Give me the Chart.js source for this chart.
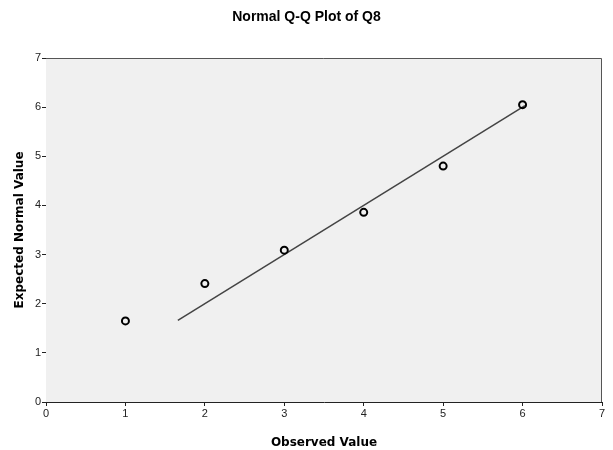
<!DOCTYPE html>
<html>
<head>
<meta charset="utf-8">
<script src="https://cdn.jsdelivr.net/npm/chart.js@4.4.1/dist/chart.umd.min.js"></script>
<style>
  html, body { margin: 0; padding: 0; background: #fff; }
  #qq { display: block; }
</style>
</head>
<body>
<canvas id="qq" width="613" height="450"></canvas>
<script>
// Normal Q-Q plot of Q8
const observed = [1, 2, 3, 4, 5, 6];
const expected = [1.65, 2.41, 3.09, 3.86, 4.80, 6.05];
const refLineX = [1.66, 6.03];
const refLineY = [1.66, 6.03];
const axisTicks = [0, 1, 2, 3, 4, 5, 6, 7];

const FONT = '"Liberation Sans", Arial, sans-serif';
const TITLE_FONT = '"DejaVu Sans", Verdana, sans-serif';

// grey plot area + top/right frame like SPSS
const plotFrame = {
    id: 'plotFrame',
    beforeDatasetsDraw(chart) {
        const { ctx, chartArea: a } = chart;
        ctx.save();
        ctx.fillStyle = '#f0f0f0';
        ctx.fillRect(a.left, a.top, a.right - a.left, a.bottom - a.top);
        ctx.restore();
    },
    afterDraw(chart) {
        const { ctx, chartArea: a } = chart;
        ctx.save();
        ctx.strokeStyle = '#555';
        ctx.lineWidth = 1;
        ctx.beginPath();
        ctx.moveTo(a.left, a.top + 0.5);
        ctx.lineTo(a.right - 0.5, a.top + 0.5);
        ctx.lineTo(a.right - 0.5, a.bottom);
        ctx.stroke();
        ctx.restore();
    }
};

const axisOpts = (title, fit, titlePad) => ({
    type: 'linear', min: 0, max: 7,
    afterBuildTicks: s => { s.ticks = axisTicks.map(v => ({ value: v })); },
    afterFit: fit,
    ticks: { color: '#222', font: { family: FONT, size: 11 }, padding: 1 },
    grid: { display: true, drawOnChartArea: false, tickLength: 4, color: '#222', lineWidth: 1 },
    border: { display: true, color: '#222', width: 1 },
    title: { display: true, text: title, color: '#000', font: { family: TITLE_FONT, size: 12, weight: 'bold' }, padding: { top: titlePad, bottom: 0 } }
});

new Chart(document.getElementById('qq').getContext('2d'), {
    type: 'scatter',
    data: {
        datasets: [
            {
                label: 'Observed',
                data: observed.map((x, i) => ({ x, y: expected[i] })),
                pointStyle: 'circle', pointRadius: 3.5, borderWidth: 2,
                borderColor: '#000', backgroundColor: 'rgba(0,0,0,0)', showLine: false
            },
            {
                label: 'Reference',
                data: refLineX.map((x, i) => ({ x, y: refLineY[i] })),
                showLine: true, pointRadius: 0, borderColor: '#444', borderWidth: 1.5
            }
        ]
    },
    options: {
        responsive: false,
        animation: false,
        layout: { padding: 0 },
        plugins: {
            legend: { display: false },
            tooltip: { enabled: false },
            title: {
                display: true, text: 'Normal Q-Q Plot of Q8', color: '#000',
                font: { family: FONT, size: 14, weight: 'bold' },
                padding: { top: 8.5, bottom: 32.7 }
            }
        },
        scales: {
            x: axisOpts('Observed Value', s => { s.height = 48; }, 2),
            y: axisOpts('Expected Normal Value', s => { s.width = 46; }, 12.8),
            // empty right margin so the title stays centred on the page
            yRight: {
                position: 'right', min: 0, max: 7,
                ticks: { display: false }, grid: { display: false }, border: { display: false },
                afterFit: s => { s.width = 11; }
            }
        }
    },
    plugins: [plotFrame]
});
</script>
</body>
</html>
